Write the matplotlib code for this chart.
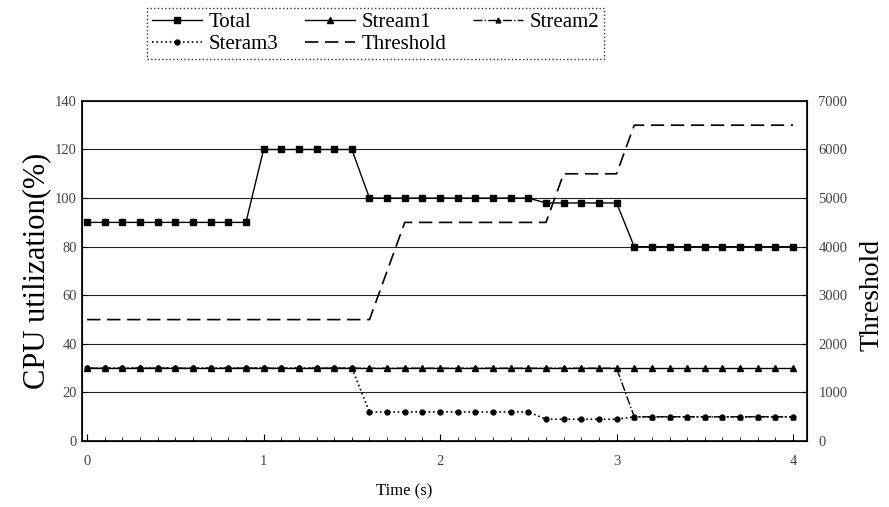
import numpy as np
import matplotlib.pyplot as plt

plt.rcParams["font.family"] = ["Liberation Serif", "DejaVu Serif"]

# time axis: one sample every 0.1 s
t = np.round(np.arange(0, 41) * 0.1, 1)

total = [90] * 10 + [120] * 6 + [100] * 10 + [98] * 5 + [80] * 10
stream1 = [30] * 41
stream2 = [30] * 31 + [10] * 10
steram3 = [30] * 16 + [12] * 10 + [9] * 5 + [10] * 10

# threshold breakpoints (right axis)
thr_t = [0, 1.6, 1.8, 2.6, 2.7, 3.0, 3.1, 4.0]
thr_v = [2500, 2500, 4500, 4500, 5500, 5500, 6500, 6500]

fig = plt.figure(figsize=(8.89, 5.07), dpi=100)
ax = fig.add_axes([0.092, 0.130, 0.816, 0.671])
ax2 = ax.twinx()

h1, = ax.plot(t, total, "-", color="black", lw=1.0, marker="s", ms=4.5, label="Total")
h2, = ax.plot(t, stream1, "-", color="black", lw=1.0, marker="^", ms=5, label="Stream1")
h3, = ax.plot(t, stream2, "-.", color="black", lw=1.0, marker="^", ms=3.5, label="Stream2")
h4, = ax.plot(t, steram3, ":", color="black", lw=1.2, marker="o", ms=3.5, label="Steram3")
h5, = ax2.plot(thr_t, thr_v, color="black", lw=1.2, dashes=(8, 4), label="Threshold")

ax.set_xlim(-0.03, 4.08)
ax.set_ylim(0, 140)
ax2.set_ylim(0, 7000)
ax.set_yticks(range(0, 141, 20))
ax2.set_yticks(range(0, 7001, 1000))
ax.set_xticks([0, 1, 2, 3, 4])
ax.set_xticks(np.arange(0, 4.01, 0.1), minor=True)

for y in range(20, 140, 20):
    ax.axhline(y, color="#222222", lw=0.8, zorder=0)

ax.tick_params(axis="both", direction="in", labelsize=10.5, labelcolor="#444444")
ax.tick_params(axis="x", which="minor", direction="in", length=3)
ax.tick_params(axis="x", which="major", length=5, pad=10)
ax2.tick_params(axis="y", direction="in", labelsize=10.5, labelcolor="#444444", pad=8)

for sp in ax.spines.values():
    sp.set_linewidth(1.2)

ax.set_xlabel("Time (s)", fontsize=12, labelpad=10)
ax.xaxis.set_label_coords(0.445, -0.125)
ax.set_ylabel("CPU utilization(%)", fontsize=22, labelpad=3)
ax2.set_ylabel("Threshold", fontsize=20, labelpad=6)
ax2.yaxis.set_label_coords(1.072, 0.43)

# matplotlib fills legend columns first; this order gives rows
# Total / Stream1 / Stream2 and Steram3 / Threshold
leg = fig.legend(handles=[h1, h4, h2, h5, h3], ncol=3, fontsize=15,
                 loc="upper left", bbox_to_anchor=(0.165, 0.985),
                 frameon=True, fancybox=False, handlelength=2.4,
                 handletextpad=0.3, columnspacing=1.3, labelspacing=0.1,
                 borderpad=0.25, borderaxespad=0)
leg.get_frame().set_edgecolor("black")
leg.get_frame().set_linewidth(1.0)
leg.get_frame().set_linestyle(":")

fig.savefig("out.png", dpi=100)
